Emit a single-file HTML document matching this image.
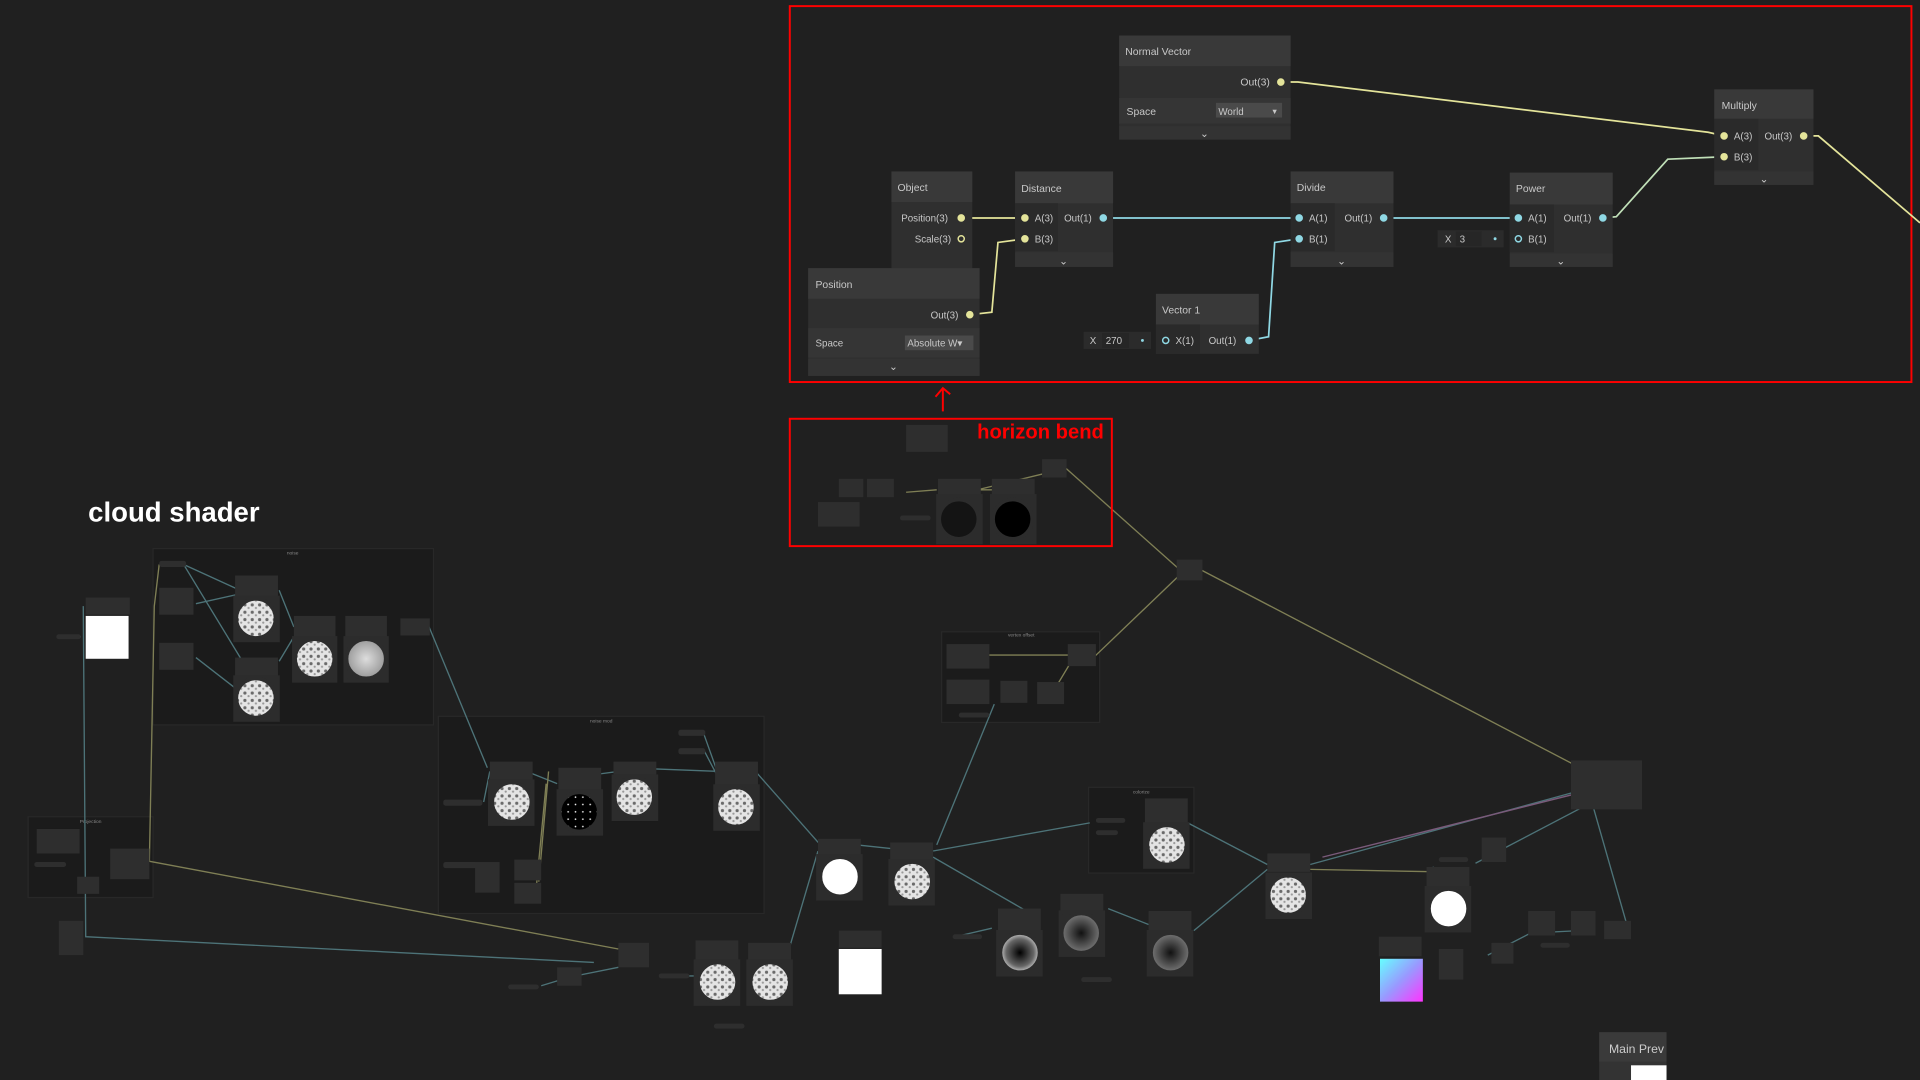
<!DOCTYPE html>
<html><head><meta charset="utf-8"><style>
html,body{margin:0;padding:0;background:#202020;overflow:hidden}
svg{display:block}
text{font-family:"Liberation Sans",sans-serif}
</style></head><body>
<svg width="1920" height="1080" viewBox="0 0 1568 882" preserveAspectRatio="none" xmlns="http://www.w3.org/2000/svg">
<rect width="1568" height="882" fill="#202020"/>

<rect x="125" y="448" width="229" height="144" fill="#1b1b1b" stroke="#282828"/>
<text x="239" y="453" font-size="4" fill="#888" text-anchor="middle">noise</text>
<rect x="358" y="585" width="266" height="161" fill="#1b1b1b" stroke="#282828"/>
<text x="491" y="590" font-size="4" fill="#888" text-anchor="middle">noise mod</text>
<rect x="23" y="667" width="102" height="66" fill="#1b1b1b" stroke="#282828"/>
<text x="74" y="672" font-size="4" fill="#888" text-anchor="middle">Projection</text>
<rect x="769" y="516" width="129" height="74" fill="#1b1b1b" stroke="#282828"/>
<text x="834" y="520" font-size="4" fill="#888" text-anchor="middle">vertex offset</text>
<rect x="889" y="643" width="86" height="70" fill="#1b1b1b" stroke="#282828"/>
<text x="932" y="648" font-size="4" fill="#888" text-anchor="middle">colorize</text>

<g fill="none" stroke-width="1.1">
<g stroke="#4d7378">
<path d="M68,495 L70,765 L485,786"/>
<path d="M55,520 L66,520"/>
<path d="M132,461 L150,461 L198,540 M150,461 L196,482"/>
<path d="M160,493 L196,485 M160,537 L196,565"/>
<path d="M228,482 L240,512 M228,540 L240,520"/>
<path d="M350,511 L398,627"/>
<path d="M395,655 L400,630 M430,630 L455,640"/>
<path d="M490,632 L505,630 M535,628 L588,630"/>
<path d="M575,600 L585,628 M575,613 L585,632"/>
<path d="M617,630 L670,690"/>
<path d="M640,790 L668,695"/>
<path d="M700,690 L728,693"/>
<path d="M762,695 L890,672"/>
<path d="M765,690 L812,575"/>
<path d="M762,700 L840,745"/>
<path d="M905,742 L938,755"/>
<path d="M970,672 L1035,706"/>
<path d="M975,760 L1035,710"/>
<path d="M1070,706 L1300,643"/>
<path d="M1205,705 L1310,650"/>
<path d="M1300,655 L1330,760"/>
<path d="M1215,780 L1250,762 L1290,760"/>
<path d="M540,797 L568,797 M612,797 L625,797"/>
<path d="M442,805 L465,798 L505,790"/>
<path d="M780,765 L810,758"/>
<path d="M1170,708 L1175,712"/>
</g>
<g stroke="#7f7f55">
<path d="M120,703 L505,775"/>
<path d="M122,703 L126,495 L130,461"/>
<path d="M870,382 L962,464"/>
<path d="M893,537 L963,470"/>
<path d="M980,465 L1300,632"/>
<path d="M790,402 L860,385 M740,402 L765,400 M800,400 L812,400"/>
<path d="M800,535 L873,535 M860,565 L875,540"/>
<path d="M440,720 L448,630 M437,735 L446,640"/>
<path d="M1070,710 L1175,712"/>
</g>
<g stroke="#7a5a7a"><path d="M1080,700 L1300,645"/></g>
</g>

<g fill="#2e2e2e">
<rect x="70" y="488" width="36" height="14"/>
<rect x="130" y="480" width="28" height="22"/><rect x="130" y="525" width="28" height="22"/>
<rect x="192" y="470" width="35" height="24"/><rect x="192" y="537" width="35" height="20"/>
<rect x="240" y="503" width="34" height="20"/><rect x="282" y="503" width="34" height="20"/>
<rect x="327" y="505" width="24" height="14"/>
<rect x="130" y="458" width="22" height="5" rx="2"/>
<rect x="46" y="518" width="20" height="4" rx="2"/>
<rect x="30" y="677" width="35" height="20"/><rect x="90" y="693" width="32" height="25"/>
<rect x="63" y="716" width="18" height="14"/><rect x="28" y="704" width="26" height="4" rx="2"/>
<rect x="48" y="752" width="20" height="28"/>
<rect x="400" y="622" width="35" height="20"/><rect x="456" y="627" width="35" height="20"/>
<rect x="501" y="622" width="35" height="20"/><rect x="584" y="622" width="35" height="20"/>
<rect x="554" y="596" width="22" height="5" rx="2"/><rect x="554" y="611" width="22" height="5" rx="2"/>
<rect x="362" y="653" width="32" height="5" rx="2"/><rect x="362" y="704" width="28" height="5" rx="2"/>
<rect x="388" y="704" width="20" height="25"/><rect x="420" y="702" width="22" height="17"/><rect x="420" y="721" width="22" height="17"/>
<rect x="668" y="685" width="35" height="18"/><rect x="727" y="688" width="35" height="18"/>
<rect x="685" y="760" width="35" height="14"/>
<rect x="505" y="770" width="25" height="20"/><rect x="455" y="790" width="20" height="15"/>
<rect x="415" y="804" width="25" height="4" rx="2"/><rect x="538" y="795" width="25" height="4" rx="2"/>
<rect x="568" y="768" width="35" height="20"/><rect x="611" y="770" width="35" height="20"/>
<rect x="583" y="836" width="25" height="4" rx="2"/>
<rect x="740" y="347" width="34" height="22"/><rect x="685" y="391" width="20" height="15"/>
<rect x="708" y="391" width="22" height="15"/><rect x="668" y="410" width="34" height="20"/>
<rect x="766" y="391" width="35" height="14"/><rect x="810" y="391" width="35" height="14"/>
<rect x="851" y="375" width="20" height="15"/><rect x="735" y="421" width="25" height="4" rx="2"/>
<rect x="961" y="457" width="21" height="17"/>
<rect x="773" y="526" width="35" height="20"/><rect x="773" y="555" width="35" height="20"/>
<rect x="817" y="556" width="22" height="18"/><rect x="847" y="557" width="22" height="18"/>
<rect x="872" y="526" width="23" height="18"/><rect x="783" y="582" width="25" height="4" rx="2"/>
<rect x="895" y="668" width="24" height="4" rx="2"/><rect x="895" y="678" width="18" height="4" rx="2"/>
<rect x="935" y="652" width="35" height="20"/>
<rect x="815" y="742" width="35" height="22"/><rect x="866" y="730" width="35" height="18"/><rect x="938" y="744" width="35" height="16"/>
<rect x="778" y="763" width="24" height="4" rx="2"/><rect x="883" y="798" width="25" height="4" rx="2"/>
<rect x="1035" y="697" width="35" height="15"/>
<rect x="1165" y="708" width="35" height="18"/><rect x="1210" y="684" width="20" height="20"/>
<rect x="1175" y="700" width="24" height="4" rx="2"/>
<rect x="1126" y="765" width="35" height="16"/><rect x="1175" y="775" width="20" height="25"/>
<rect x="1218" y="770" width="18" height="17"/><rect x="1248" y="744" width="22" height="20"/>
<rect x="1258" y="770" width="24" height="4" rx="2"/><rect x="1283" y="744" width="20" height="20"/>
<rect x="1310" y="752" width="22" height="15"/>
<rect x="1283" y="621" width="58" height="40"/>
</g>

<rect x="70" y="503" width="35" height="35" fill="#fff"/>
<rect x="685" y="775" width="35" height="37" fill="#fff"/>
<defs>
<radialGradient id="ng"><stop offset="0" stop-color="#ddd"/><stop offset="1" stop-color="#999"/></radialGradient>
<radialGradient id="dg"><stop offset="0" stop-color="#000"/><stop offset="0.7" stop-color="#666"/><stop offset="1" stop-color="#ccc"/></radialGradient>
<radialGradient id="dk"><stop offset="0" stop-color="#111"/><stop offset="1" stop-color="#777"/></radialGradient>
<linearGradient id="cg" x1="0" y1="0" x2="1" y2="1"><stop offset="0" stop-color="#6ff"/><stop offset="0.5" stop-color="#99f"/><stop offset="1" stop-color="#f3f"/></linearGradient>
<pattern id="sp" width="6" height="6" patternUnits="userSpaceOnUse"><rect width="6" height="6" fill="#e4e4e4"/><circle cx="2" cy="2" r="1.3" fill="#6a6a6a"/><circle cx="5" cy="4.5" r="0.9" fill="#999"/></pattern>
<pattern id="bp" width="6" height="6" patternUnits="userSpaceOnUse"><rect width="6" height="6" fill="#000"/><circle cx="2" cy="3" r="0.7" fill="#eee"/></pattern>
</defs>
<g stroke="#2c2c2c" stroke-width="3">
<rect x="192" y="488" width="35" height="35" fill="#2c2c2c"/><circle cx="209" cy="505" r="16" fill="url(#sp)"/>
<rect x="192" y="553" width="35" height="35" fill="#2c2c2c"/><circle cx="209" cy="570" r="16" fill="url(#sp)"/>
<rect x="240" y="521" width="34" height="35" fill="#2c2c2c"/><circle cx="257" cy="538" r="16" fill="url(#sp)"/>
<rect x="282" y="521" width="34" height="35" fill="#2c2c2c"/><circle cx="299" cy="538" r="16" fill="url(#ng)"/>
<rect x="400" y="638" width="35" height="35" fill="#2c2c2c"/><circle cx="418" cy="655" r="16" fill="url(#sp)"/>
<rect x="456" y="646" width="35" height="35" fill="#2c2c2c"/><circle cx="473" cy="663" r="16" fill="url(#bp)"/>
<rect x="501" y="634" width="35" height="35" fill="#2c2c2c"/><circle cx="518" cy="651" r="16" fill="url(#sp)"/>
<rect x="584" y="642" width="35" height="35" fill="#2c2c2c"/><circle cx="601" cy="659" r="16" fill="url(#sp)"/>
<rect x="668" y="699" width="35" height="35" fill="#2c2c2c"/><circle cx="686" cy="716" r="16" fill="#fff"/>
<rect x="727" y="703" width="35" height="35" fill="#2c2c2c"/><circle cx="745" cy="720" r="16" fill="url(#sp)"/>
<rect x="568" y="785" width="35" height="35" fill="#2c2c2c"/><circle cx="586" cy="802" r="16" fill="url(#sp)"/>
<rect x="611" y="785" width="35" height="35" fill="#2c2c2c"/><circle cx="629" cy="802" r="16" fill="url(#sp)"/>
<rect x="815" y="761" width="35" height="35" fill="#2c2c2c"/><circle cx="833" cy="778" r="16" fill="url(#dg)"/>
<rect x="866" y="745" width="35" height="35" fill="#2c2c2c"/><circle cx="883" cy="762" r="16" fill="url(#dk)"/>
<rect x="938" y="761" width="35" height="35" fill="#2c2c2c"/><circle cx="956" cy="778" r="16" fill="url(#dk)"/>
<rect x="935" y="673" width="35" height="35" fill="#2c2c2c"/><circle cx="953" cy="690" r="16" fill="url(#sp)"/>
<rect x="1035" y="714" width="35" height="35" fill="#2c2c2c"/><circle cx="1052" cy="731" r="16" fill="url(#sp)"/>
<rect x="1165" y="725" width="35" height="35" fill="#2c2c2c"/><circle cx="1183" cy="742" r="16" fill="#fff"/>
<rect x="766" y="405" width="35" height="38" fill="#2c2c2c"/><circle cx="783" cy="424" r="16" fill="#141414"/>
<rect x="810" y="405" width="35" height="38" fill="#2c2c2c"/><circle cx="827" cy="424" r="16" fill="#000"/>
</g>
<rect x="1127" y="783" width="35" height="35" fill="url(#cg)"/>

<rect x="1306" y="843" width="55" height="39" fill="#333"/>
<rect x="1306" y="843" width="55" height="24" fill="#3a3a3a"/>
<text x="1314" y="860" font-size="10" fill="#ccc">Main Prev</text>
<rect x="1332" y="870" width="29" height="12" fill="#fff"/>

<text x="72" y="426" font-size="22.5" font-weight="bold" fill="#fff">cloud shader</text>
<rect x="645" y="342" width="263" height="104" fill="none" stroke="#f00" stroke-width="1.6"/>
<text x="798" y="358" font-size="16.5" font-weight="bold" fill="#f00">horizon bend</text>
<path d="M770,336 L770,318 M764,324 L770,317 L776,322" stroke="#f00" stroke-width="1.6" fill="none"/>

<rect x="645" y="5" width="916" height="307" fill="none" stroke="#f00" stroke-width="1.6"/>

<g fill="none" stroke-width="1.4">
<path d="M1046,67 L1060,67 L1395,108 L1408,111" stroke="#e4e49a"/>
<path d="M1473,111 L1485,111 L1568,182" stroke="#e4e49a"/>
<path d="M785,178 L837,178" stroke="#e4e49a"/>
<path d="M792,257 L810,255 L815,198 L837,195" stroke="#e4e49a"/>
<path d="M901,178 L1061,178" stroke="#8fd8e4"/>
<path d="M1020,278 L1036,275 L1041,198 L1061,195" stroke="#8fd8e4"/>
<path d="M1130,178 L1240,178" stroke="#8fd8e4"/>
<path d="M1309,178 L1320,177 L1362,130 L1408,128" stroke="#c0e0b8"/>
</g>

<g font-size="8.5" fill="#c8c8c8">
<rect x="914" y="29" width="140" height="85" fill="#2f2f2f"/>
<rect x="914" y="29" width="140" height="25" fill="#393939"/>
<text x="919" y="45">Normal Vector</text>
<rect x="914" y="80" width="140" height="21" fill="#353535"/>
<text x="1013" y="70">Out(3)</text>
<text x="920" y="94">Space</text>
<rect x="993" y="84" width="54" height="12" fill="#4a4a4a"/>
<text x="995" y="94" font-size="8">World</text><text x="1038" y="93" font-size="6">▼</text>
<rect x="914" y="103" width="140" height="11" fill="#333"/>
<text x="980" y="112">⌄</text>

<rect x="1400" y="73" width="81" height="78" fill="#2f2f2f"/>
<rect x="1400" y="73" width="81" height="24" fill="#393939"/>
<text x="1406" y="89">Multiply</text>
<rect x="1400" y="97" width="36" height="42" fill="#2a2a2a"/>
<text x="1416" y="114" font-size="8">A(3)</text><text x="1416" y="131" font-size="8">B(3)</text>
<text x="1441" y="114" font-size="8">Out(3)</text>
<rect x="1400" y="140" width="81" height="11" fill="#333"/><text x="1437" y="149">⌄</text>

<rect x="728" y="140" width="66" height="81" fill="#2f2f2f"/>
<rect x="728" y="140" width="66" height="25" fill="#393939"/>
<text x="733" y="156">Object</text>
<text x="736" y="181" font-size="8">Position(3)</text>
<text x="747" y="198" font-size="8">Scale(3)</text>

<rect x="829" y="140" width="80" height="78" fill="#2f2f2f"/>
<rect x="829" y="140" width="80" height="26" fill="#393939"/>
<text x="834" y="157">Distance</text>
<rect x="829" y="166" width="35" height="39" fill="#2a2a2a"/>
<text x="845" y="181" font-size="8">A(3)</text><text x="845" y="198" font-size="8">B(3)</text>
<text x="869" y="181" font-size="8">Out(1)</text>
<rect x="829" y="206" width="80" height="12" fill="#333"/><text x="865" y="216">⌄</text>

<rect x="1054" y="140" width="84" height="78" fill="#2f2f2f"/>
<rect x="1054" y="140" width="84" height="26" fill="#393939"/>
<text x="1059" y="156">Divide</text>
<rect x="1054" y="166" width="36" height="39" fill="#2a2a2a"/>
<text x="1069" y="181" font-size="8">A(1)</text><text x="1069" y="198" font-size="8">B(1)</text>
<text x="1098" y="181" font-size="8">Out(1)</text>
<rect x="1054" y="206" width="84" height="12" fill="#333"/><text x="1092" y="216">⌄</text>

<rect x="1233" y="141" width="84" height="77" fill="#2f2f2f"/>
<rect x="1233" y="141" width="84" height="26" fill="#393939"/>
<text x="1238" y="157">Power</text>
<rect x="1233" y="167" width="36" height="39" fill="#2a2a2a"/>
<text x="1248" y="181" font-size="8">A(1)</text><text x="1248" y="198" font-size="8">B(1)</text>
<text x="1277" y="181" font-size="8">Out(1)</text>
<rect x="1233" y="207" width="84" height="11" fill="#333"/><text x="1271" y="216">⌄</text>
<rect x="1174" y="188" width="54" height="14" fill="#2b2b2b"/>
<text x="1180" y="198" font-size="8">X</text><rect x="1189" y="189" width="21" height="12" fill="#262626"/><text x="1192" y="198" font-size="8">3</text>

<rect x="660" y="219" width="140" height="88" fill="#2f2f2f"/>
<rect x="660" y="219" width="140" height="25" fill="#393939"/>
<text x="666" y="235">Position</text>
<text x="760" y="260" font-size="8">Out(3)</text>
<rect x="660" y="268" width="140" height="24" fill="#353535"/>
<text x="666" y="283" font-size="8">Space</text>
<rect x="739" y="274" width="56" height="12" fill="#4a4a4a"/>
<text x="741" y="283" font-size="8">Absolute W▾</text>
<rect x="660" y="293" width="140" height="14" fill="#333"/><text x="726" y="302">⌄</text>

<rect x="944" y="240" width="84" height="49" fill="#2f2f2f"/>
<rect x="944" y="240" width="84" height="25" fill="#393939"/>
<text x="949" y="256">Vector 1</text>
<rect x="944" y="265" width="36" height="24" fill="#2a2a2a"/>
<text x="960" y="281" font-size="8">X(1)</text><text x="987" y="281" font-size="8">Out(1)</text>
<rect x="885" y="271" width="55" height="14" fill="#2b2b2b"/>
<text x="890" y="281" font-size="8">X</text><rect x="900" y="272" width="22" height="12" fill="#262626"/><text x="903" y="281" font-size="8">270</text>
</g>

<g stroke-width="1.2">
<g fill="#e4e49a" stroke="#e4e49a">
<circle cx="1046" cy="67" r="2.5"/><circle cx="1408" cy="111" r="2.5"/><circle cx="1408" cy="128" r="2.5"/>
<circle cx="1473" cy="111" r="2.5"/><circle cx="785" cy="178" r="2.5"/><circle cx="837" cy="178" r="2.5"/>
<circle cx="837" cy="195" r="2.5"/><circle cx="792" cy="257" r="2.5"/>
</g>
<circle cx="785" cy="195" r="2.5" fill="none" stroke="#e4e49a"/>
<g fill="#8fd8e4" stroke="#8fd8e4">
<circle cx="901" cy="178" r="2.5"/><circle cx="1061" cy="178" r="2.5"/><circle cx="1061" cy="195" r="2.5"/>
<circle cx="1130" cy="178" r="2.5"/><circle cx="1240" cy="178" r="2.5"/><circle cx="1309" cy="178" r="2.5"/>
<circle cx="1020" cy="278" r="2.5"/>
</g>
<g fill="none" stroke="#8fd8e4"><circle cx="1240" cy="195" r="2.5"/><circle cx="952" cy="278" r="2.5"/></g>
<circle cx="1221" cy="195" r="1.2" fill="#8fd8e4"/><circle cx="933" cy="278" r="1.2" fill="#8fd8e4"/>
</g>
</svg>
</body></html>
